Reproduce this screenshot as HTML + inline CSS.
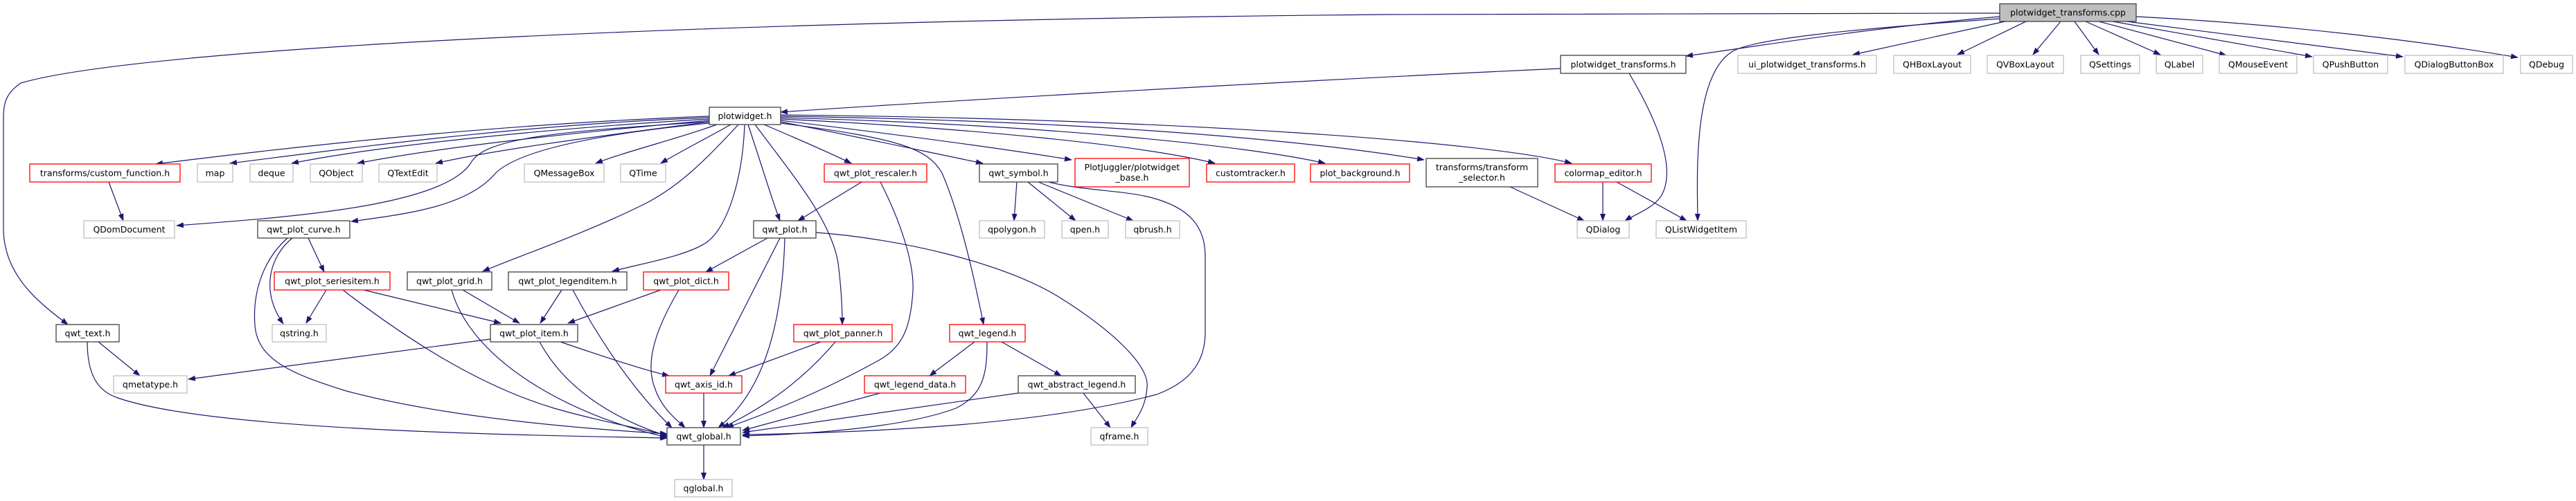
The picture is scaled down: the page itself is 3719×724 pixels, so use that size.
<!DOCTYPE html>
<html><head><meta charset="utf-8"><style>
html,body{margin:0;padding:0;background:#fff}
svg{display:block}
text{font-family:"DejaVu Sans","Liberation Sans",sans-serif;font-size:12.5px;fill:#000;text-anchor:middle}
.e{fill:none;stroke:#191970;stroke-width:1.2;marker-end:url(#a)}
.b{fill:#fff;stroke:#404040;stroke-width:1.3}
.r{fill:#fff;stroke:#ff0000;stroke-width:1.3}
.g{fill:#fff;stroke:#bfbfbf;stroke-width:1.3}
</style></head><body>
<svg width="3719" height="724" viewBox="0 0 3719 724" xmlns="http://www.w3.org/2000/svg">
<defs><marker id="a" markerUnits="userSpaceOnUse" markerWidth="11" markerHeight="8" refX="10" refY="4" orient="auto"><path d="M0,0 L11,4 L0,8 z" fill="#191970"/></marker></defs>

<!-- edges -->
<path class="e" d="M2887,24 C2700,40 2550,65 2434,81"/>
<path class="e" d="M2895,31 L2675,79"/>
<path class="e" d="M2925,31 L2826,79"/>
<path class="e" d="M2975,31 L2935,79"/>
<path class="e" d="M2995,31 L3030,79"/>
<path class="e" d="M3011,31 L3119,79"/>
<path class="e" d="M3030,31 L3214,80"/>
<path class="e" d="M3050,31 L3338,82"/>
<path class="e" d="M3070,31 L3469,82"/>
<path class="e" d="M3084,24 C3300,35 3500,60 3635,83"/>
<path class="e" d="M2887,27 C2700,40 2530,55 2500,75 C2445,110 2450,250 2451,319"/>
<path class="e" d="M2887,19 L2000,21 C1000,30 200,70 30,120 C8,135 5,150 5,170 L5,330 C5,400 60,440 98,469"/>
<path class="e" d="M2253,99 C1800,120 1300,150 1127,162"/>
<path class="e" d="M2352,106 C2390,170 2420,240 2400,280 C2390,300 2360,310 2346,319"/>

<path class="e" d="M1024,168 C700,180 400,215 225,237"/>
<path class="e" d="M1024,170 C750,180 500,215 332,236"/>
<path class="e" d="M1024,172 C800,185 550,210 421,236"/>
<path class="e" d="M1024,174 C850,190 650,210 516,236"/>
<path class="e" d="M1024,176 C880,195 720,215 629,236"/>
<path class="e" d="M1035,180 C980,200 900,220 860,236"/>
<path class="e" d="M1055,180 C1020,200 980,220 954,236"/>
<path class="e" d="M1024,176 C800,190 700,200 680,235 C640,300 400,315 255,326"/>
<path class="e" d="M1024,178 C850,195 740,220 712,254 C670,300 580,310 507,320"/>
<path class="e" d="M1066,180 C1020,230 980,270 930,295 C850,335 750,370 697,392"/>
<path class="e" d="M1075,180 C1072,260 1050,330 1019,351 C990,370 930,380 884,392"/>
<path class="e" d="M1080,180 C1100,240 1115,290 1126,319"/>
<path class="e" d="M1103,180 C1150,200 1200,222 1229,236"/>
<path class="e" d="M1090,180 C1150,260 1200,320 1210,380 C1215,420 1216,450 1216,469"/>
<path class="e" d="M1127,176 C1250,200 1350,222 1419,236"/>
<path class="e" d="M1127,178 C1300,200 1340,215 1360,250 C1390,320 1410,420 1420,469"/>
<path class="e" d="M1127,174 C1300,195 1450,215 1547,231"/>
<path class="e" d="M1127,172 C1400,185 1650,210 1754,236"/>
<path class="e" d="M1127,170 C1500,180 1800,210 1913,236"/>
<path class="e" d="M1127,168 C1600,175 1900,205 2056,231"/>
<path class="e" d="M1127,166 C1700,172 2150,205 2269,236"/>

<path class="e" d="M157,263 L178,319"/>
<path class="e" d="M445,344 L468,393"/>
<path class="e" d="M422,344 C390,370 375,420 409,468"/>
<path class="e" d="M415,344 C375,380 365,430 368,470 C372,520 420,540 500,565 C650,605 850,620 963,627"/>
<path class="e" d="M471,419 L442,467"/>
<path class="e" d="M525,419 L723,467"/>
<path class="e" d="M495,419 C600,500 700,560 800,590 C870,610 930,620 963,629"/>
<path class="e" d="M668,419 L750,467"/>
<path class="e" d="M652,419 C680,520 820,600 963,632"/>
<path class="e" d="M811,419 L780,467"/>
<path class="e" d="M827,419 C870,500 920,570 970,618"/>
<path class="e" d="M954,419 L820,467"/>
<path class="e" d="M980,419 C950,470 930,520 945,560 C955,590 975,605 989,618"/>
<path class="e" d="M142,494 L202,543"/>
<path class="e" d="M126,494 C126,540 140,565 170,575 C300,620 700,628 963,633"/>
<path class="e" d="M708,490 L272,548"/>
<path class="e" d="M779,494 C820,570 900,610 963,630"/>
<path class="e" d="M809,494 C870,515 930,535 966,543"/>
<path class="e" d="M1244,263 L1152,319"/>
<path class="e" d="M1271,263 C1300,320 1320,380 1318,420 C1315,470 1305,500 1270,520 C1180,570 1100,600 1049,618"/>
<path class="e" d="M1108,344 L1019,393"/>
<path class="e" d="M1126,344 L1025,543"/>
<path class="e" d="M1133,344 C1130,450 1110,560 1037,618"/>
<path class="e" d="M1178,336 C1300,345 1450,380 1530,430 C1610,480 1660,530 1656,560 C1654,590 1640,605 1633,618"/>
<path class="e" d="M1185,494 L1052,543"/>
<path class="e" d="M1206,494 C1150,560 1090,595 1043,618"/>
<path class="e" d="M1468,263 L1464,319"/>
<path class="e" d="M1484,263 L1553,319"/>
<path class="e" d="M1499,263 L1636,319"/>
<path class="e" d="M1514,263 C1560,275 1620,275 1660,285 C1720,300 1740,330 1740,370 L1740,480 C1740,530 1710,555 1670,570 C1500,615 1250,625 1072,628"/>
<path class="e" d="M1407,494 L1342,543"/>
<path class="e" d="M1446,494 L1532,543"/>
<path class="e" d="M1425,494 C1425,540 1420,570 1380,590 C1300,620 1150,628 1072,630"/>
<path class="e" d="M1271,568 L1072,622"/>
<path class="e" d="M1470,568 L1072,625"/>
<path class="e" d="M1564,568 L1603,618"/>
<path class="e" d="M1016,568 L1016,618"/>
<path class="e" d="M1016,643 L1016,693"/>
<path class="e" d="M2180,270 L2287,319"/>
<path class="e" d="M2314,263 L2314,319"/>
<path class="e" d="M2334,263 L2435,319"/>

<!-- nodes -->
<rect x="2887" y="5.5" width="197" height="25.5" fill="#bfbfbf" stroke="#404040" stroke-width="1.3"/><text x="2985.5" y="22.5">plotwidget_transforms.cpp</text>

<rect class="b" x="2253" y="80" width="181" height="26"/><text x="2343.5" y="97.5">plotwidget_transforms.h</text>
<rect class="g" x="2509" y="80" width="200" height="26"/><text x="2609" y="97.5">ui_plotwidget_transforms.h</text>
<rect class="g" x="2734" y="80" width="111" height="26"/><text x="2789.5" y="97.5">QHBoxLayout</text>
<rect class="g" x="2869" y="80" width="110" height="26"/><text x="2924" y="97.5">QVBoxLayout</text>
<rect class="g" x="3004" y="80" width="85" height="26"/><text x="3046.5" y="97.5">QSettings</text>
<rect class="g" x="3113" y="80" width="67" height="26"/><text x="3146.5" y="97.5">QLabel</text>
<rect class="g" x="3204" y="80" width="112" height="26"/><text x="3260" y="97.5">QMouseEvent</text>
<rect class="g" x="3340" y="80" width="107" height="26"/><text x="3393.5" y="97.5">QPushButton</text>
<rect class="g" x="3472" y="80" width="142" height="26"/><text x="3543" y="97.5">QDialogButtonBox</text>
<rect class="g" x="3639" y="80" width="75" height="26"/><text x="3676.5" y="97.5">QDebug</text>

<rect class="b" x="1024" y="155" width="103" height="25"/><text x="1075.5" y="172">plotwidget.h</text>

<rect class="r" x="43" y="237" width="217" height="26"/><text x="151.5" y="254.5">transforms/custom_function.h</text>
<rect class="g" x="285" y="237" width="51" height="26"/><text x="310.5" y="254.5">map</text>
<rect class="g" x="361" y="237" width="62" height="26"/><text x="392" y="254.5">deque</text>
<rect class="g" x="448" y="237" width="75" height="26"/><text x="485.5" y="254.5">QObject</text>
<rect class="g" x="547" y="237" width="84" height="26"/><text x="589" y="254.5">QTextEdit</text>
<rect class="g" x="757" y="237" width="115" height="26"/><text x="814.5" y="254.5">QMessageBox</text>
<rect class="g" x="896" y="237" width="65" height="26"/><text x="928.5" y="254.5">QTime</text>
<rect class="r" x="1190" y="237" width="148" height="26"/><text x="1264" y="254.5">qwt_plot_rescaler.h</text>
<rect class="b" x="1414" y="237" width="113" height="26"/><text x="1470.5" y="254.5">qwt_symbol.h</text>
<rect class="r" x="1552" y="229" width="165" height="41"/><text x="1634.5" y="246">PlotJuggler/plotwidget</text><text x="1634.5" y="261">_base.h</text>
<rect class="r" x="1742" y="237" width="127" height="26"/><text x="1805.5" y="254.5">customtracker.h</text>
<rect class="r" x="1892" y="237" width="143" height="26"/><text x="1963.5" y="254.5">plot_background.h</text>
<rect class="b" x="2059" y="229" width="161" height="41"/><text x="2139.5" y="246">transforms/transform</text><text x="2139.5" y="261">_selector.h</text>
<rect class="r" x="2245" y="237" width="139" height="26"/><text x="2314.5" y="254.5">colormap_editor.h</text>

<rect class="g" x="121" y="319" width="131" height="25"/><text x="186.5" y="336">QDomDocument</text>
<rect class="b" x="372" y="319" width="133" height="25"/><text x="438.5" y="336">qwt_plot_curve.h</text>
<rect class="b" x="1088" y="319" width="90" height="25"/><text x="1133" y="336">qwt_plot.h</text>
<rect class="g" x="1414" y="319" width="94" height="25"/><text x="1461" y="336">qpolygon.h</text>
<rect class="g" x="1533" y="319" width="67" height="25"/><text x="1566.5" y="336">qpen.h</text>
<rect class="g" x="1625" y="319" width="78" height="25"/><text x="1664" y="336">qbrush.h</text>
<rect class="g" x="2277" y="319" width="75" height="25"/><text x="2314.5" y="336">QDialog</text>
<rect class="g" x="2391" y="319" width="130" height="25"/><text x="2456" y="336">QListWidgetItem</text>

<rect class="r" x="396" y="393" width="167" height="26"/><text x="479.5" y="410.5">qwt_plot_seriesitem.h</text>
<rect class="b" x="588" y="393" width="122" height="26"/><text x="649" y="410.5">qwt_plot_grid.h</text>
<rect class="b" x="734" y="393" width="171" height="26"/><text x="819.5" y="410.5">qwt_plot_legenditem.h</text>
<rect class="r" x="929" y="393" width="123" height="26"/><text x="990.5" y="410.5">qwt_plot_dict.h</text>

<rect class="b" x="81" y="469" width="91" height="25"/><text x="126.5" y="486">qwt_text.h</text>
<rect class="g" x="393" y="469" width="78" height="25"/><text x="432" y="486">qstring.h</text>
<rect class="b" x="708" y="469" width="126" height="25"/><text x="771" y="486">qwt_plot_item.h</text>
<rect class="r" x="1146" y="469" width="142" height="25"/><text x="1217" y="486">qwt_plot_panner.h</text>
<rect class="r" x="1371" y="469" width="109" height="25"/><text x="1425.5" y="486">qwt_legend.h</text>

<rect class="g" x="164" y="543" width="106" height="25"/><text x="217" y="560">qmetatype.h</text>
<rect class="r" x="961" y="543" width="110" height="25"/><text x="1016" y="560">qwt_axis_id.h</text>
<rect class="r" x="1248" y="543" width="146" height="25"/><text x="1321" y="560">qwt_legend_data.h</text>
<rect class="b" x="1470" y="543" width="169" height="25"/><text x="1554.5" y="560">qwt_abstract_legend.h</text>

<rect class="b" x="963" y="618" width="106" height="25"/><text x="1016" y="635">qwt_global.h</text>
<rect class="g" x="1575" y="618" width="82" height="25"/><text x="1616" y="635">qframe.h</text>
<rect class="g" x="974" y="693" width="83" height="25"/><text x="1015.5" y="710">qglobal.h</text>
</svg>
</body></html>
